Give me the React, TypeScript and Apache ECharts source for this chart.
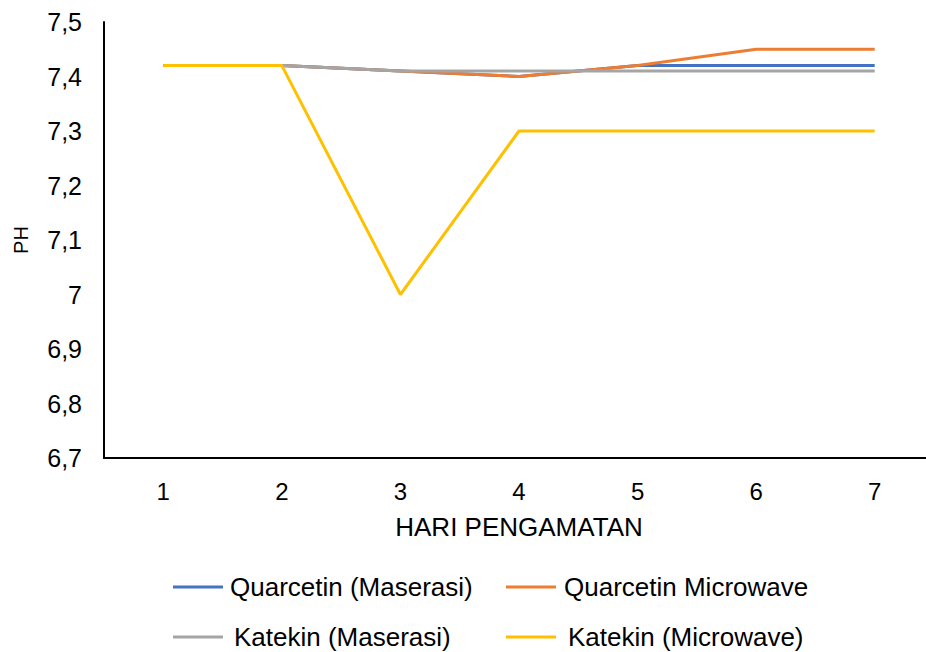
import React, { useEffect, useRef } from "react";
import * as echarts from "echarts";

const categories = ["1", "2", "3", "4", "5", "6", "7"];
const seriesNames = [
  "Quarcetin (Maserasi)",
  "Quarcetin Microwave",
  "Katekin (Maserasi)",
  "Katekin (Microwave)",
];
const quarcetinMaserasi = [7.42, 7.42, 7.41, 7.4, 7.42, 7.42, 7.42];
const quarcetinMicrowave = [7.42, 7.42, 7.41, 7.4, 7.42, 7.45, 7.45];
const katekinMaserasi = [7.42, 7.42, 7.41, 7.41, 7.41, 7.41, 7.41];
const katekinMicrowave = [7.42, 7.42, 7.0, 7.3, 7.3, 7.3, 7.3];
const colors = ["#4472C4", "#ED7D31", "#A5A5A5", "#FFC000"];

const FONT = "'Liberation Sans', Arial, sans-serif";

export default function App() {
  const ref = useRef<HTMLDivElement>(null);
  useEffect(() => {
    if (!ref.current) return;
    const chart = echarts.init(ref.current, undefined, { renderer: "svg" });
    const values = [quarcetinMaserasi, quarcetinMicrowave, katekinMaserasi, katekinMicrowave];
    const legendPos = [
      { left: 173, top: 574 },
      { left: 506, top: 574 },
      { left: 173, top: 624 },
      { left: 506, top: 624 },
    ];
    const textGap = [7, 8, 11, 12];
    chart.setOption({
      animation: false,
      textStyle: { fontFamily: FONT },
      color: colors,
      legend: seriesNames.map((n, i) => ({
        data: [n],
        left: legendPos[i].left,
        top: legendPos[i].top,
        icon: "rect",
        itemWidth: 50,
        itemHeight: 3,
        itemGap: 0,
        padding: 0,
        selectedMode: false,
        textStyle: {
          fontFamily: FONT,
          fontSize: 26,
          color: "#000",
          padding: [0, 0, 0, textGap[i] - 5],
        },
      })),
      grid: { left: 104, right: -8, top: 22, bottom: 194, outerBoundsMode: "none", containLabel: false },
      xAxis: {
        type: "category",
        data: categories,
        boundaryGap: true,
        name: "HARI PENGAMATAN",
        nameLocation: "middle",
        nameGap: 56,
        nameTextStyle: { fontFamily: FONT, fontSize: 26, color: "#000" },
        axisLine: { lineStyle: { color: "#000", width: 2 } },
        axisTick: { show: false },
        axisLabel: { fontFamily: FONT, fontSize: 24, color: "#000", margin: 21 },
      },
      yAxis: {
        type: "value",
        min: 6.7,
        max: 7.5,
        interval: 0.1,
        name: "PH",
        nameLocation: "middle",
        nameGap: 73,
        nameTextStyle: { fontFamily: FONT, fontSize: 20, color: "#000" },
        axisLine: { show: true, lineStyle: { color: "#000", width: 2 } },
        axisTick: { show: false },
        splitLine: { show: false },
        axisLabel: {
          fontFamily: FONT,
          fontSize: 25,
          color: "#000",
          margin: 22,
          formatter: (v: number) => String(Math.round(v * 10) / 10).replace(".", ","),
        },
      },
      series: seriesNames.map((n, i) => ({
        name: n,
        type: "line",
        data: values[i],
        symbol: "none",
        lineStyle: { width: 3, color: colors[i] },
        itemStyle: { color: colors[i] },
      })),
    });
    return () => chart.dispose();
  }, []);
  return <div ref={ref} style={{ width: 926, height: 652, position: "absolute", left: 0, top: 0 }} />;
}
